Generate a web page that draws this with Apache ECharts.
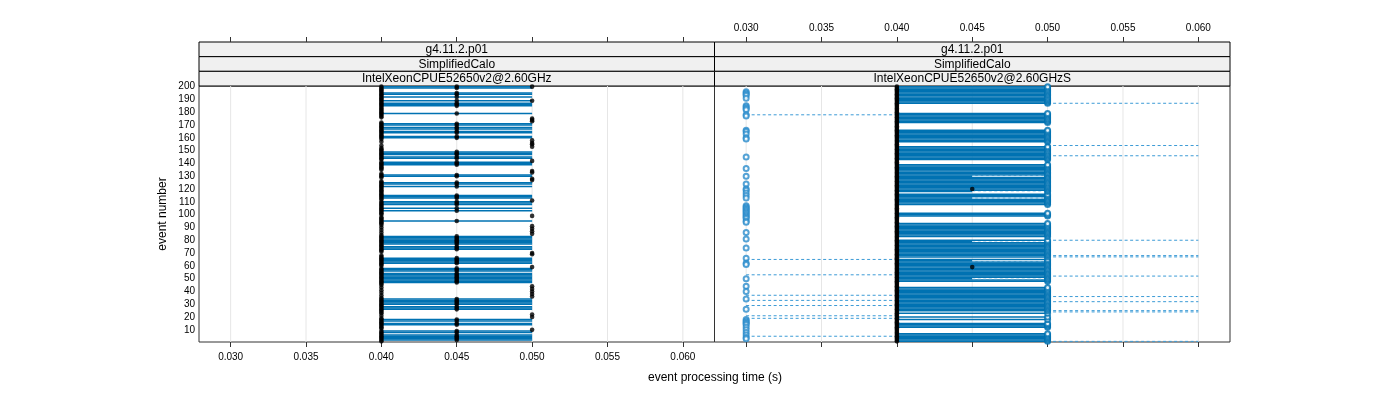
<!DOCTYPE html>
<html><head><meta charset="utf-8">
<script src="https://cdn.jsdelivr.net/npm/echarts@6/dist/echarts.min.js"></script>
<style>html,body{margin:0;padding:0;background:#fff}#c{width:1400px;height:400px}</style>
</head><body><div id="c"></div>
<script>
// ---------- data ----------
const xTicks = [0.030, 0.035, 0.040, 0.045, 0.050, 0.055, 0.060];
const yTicks = [10,20,30,40,50,60,70,80,90,100,110,120,130,140,150,160,170,180,190,200];
const stripLeft = ["g4.11.2.p01", "SimplifiedCalo", "IntelXeonCPUE52650v2@2.60GHz"];
const stripRight = ["g4.11.2.p01", "SimplifiedCalo", "IntelXeonCPUE52650v2@2.60GHzS"];
const eventCount = 200;

// left panel
const leftLineEvents = [200,199,195,194,192,189,187,186,185,179,171,170,168,167,165,164,161,160,149,148,147,145,144,141,140,139,131,130,125,124,122,115,114,113,110,109,108,105,103,95,83,82,81,80,79,78,77,75,74,73,66,65,64,63,62,58,57,56,54,53,52,51,50,49,48,47,34,33,32,31,30,28,27,26,18,17,15,14,9,8,6,5,4,3,2];
const left050Events = [200,189,175,174,173,158,156,155,153,142,134,133,128,127,111,99,91,89,87,85,70,69,59,44,42,40,38,36,22,20,10];

// right panel
const rightGapEvents = [186,185,184,183,182,181,180,171,170,169,168,167,156,155,154,142,141,140,117,107,106,105,104,103,102,98,97,96,95,94,82,81,66,47,46,45,44,24,22,21,19,17,16,11,10,9,8];
const rightHalfEvents = [130,118,113,79,64,50];
const rightCircle030 = [196,195,194,193,191,185,184,183,182,178,177,166,165,163,160,159,145,136,130,124,120,119,117,115,113,107,106,105,104,103,102,101,100,99,98,97,95,94,86,81,74,66,62,61,50,44,40,34,26,18,17,16,15,14,12,10,8,6,4,3];
const right050Black = [173,145,127,111,90,80,71,63,51,36];
const right045Black = [120,59];
const rightDashLeft = [178,65,53,37,33,29,21,19,5];
const rightDashRight = [187,154,146,80,68,67,52,36,32,25,24,1];

// ---------- build ----------
const FONT = "'Liberation Sans', Arial, sans-serif";
const XMIN = 0.0279, XMAX = 0.0621, YMIN = 0.5, YMAX = 200.5;
const BLUE = '#0072B2', DASHBLUE = '#3c9bd6';
const events = Array.from({length: eventCount}, (_, i) => i + 1);

function segRender(color, width, dash) {
  return function (params, api) {
    const a = api.coord([api.value(0), api.value(2)]);
    const b = api.coord([api.value(1), api.value(2)]);
    return {type: 'line', shape: {x1: a[0], y1: a[1], x2: b[0], y2: b[1]},
      style: {stroke: color, lineWidth: width, lineDash: dash || null}};
  };
}
function segSeries(xi, yi, data, color, width, dash, z) {
  return {type: 'custom', xAxisIndex: xi, yAxisIndex: yi, renderItem: segRender(color, width, dash),
    data: data, encode: {x: [0, 1], y: 2}, silent: true, z: z, clip: true};
}
function gridLineSeries(xi, yi) {
  return {type: 'custom', xAxisIndex: xi, yAxisIndex: yi, z: 1, silent: true,
    renderItem: function (params, api) {
      const a = api.coord([api.value(0), YMIN]);
      const b = api.coord([api.value(0), YMAX]);
      return {type: 'line', shape: {x1: a[0], y1: a[1], x2: b[0], y2: b[1]}, style: {stroke: '#e6e6e6', lineWidth: 1}};
    },
    data: xTicks.map(v => [v]), encode: {x: 0}};
}
function dots(xi, yi, xv, evs, z) {
  return {type: 'scatter', xAxisIndex: xi, yAxisIndex: yi, symbol: 'circle', symbolSize: 4.6,
    itemStyle: {color: '#000'}, data: evs.map(e => [xv, e]), z: z, silent: true};
}
function circles(xi, yi, xv, evs, z, color) {
  const c = color || BLUE;
  return {type: 'scatter', xAxisIndex: xi, yAxisIndex: yi, symbol: 'emptyCircle', symbolSize: 5,
    itemStyle: {color: c, borderColor: c, borderWidth: 1}, data: evs.map(e => [xv, e]), z: z, silent: true};
}

const left040 = events.filter(e => !left050Events.includes(e) || leftLineEvents.includes(e));
const rightLineEvents = events.filter(e => !rightGapEvents.includes(e));
const rightFull = rightLineEvents.filter(e => !rightHalfEvents.includes(e));

const series = [
  gridLineSeries(0, 0),
  gridLineSeries(3, 1),
  // left panel
  segSeries(0, 0, leftLineEvents.map(e => [0.040, 0.050, e]), BLUE, 1.5, null, 3),
  dots(0, 0, 0.040, left040, 5),
  dots(0, 0, 0.045, leftLineEvents, 5),
  dots(0, 0, 0.050, left050Events, 5),
  // right panel
  segSeries(3, 1, rightFull.map(e => [0.040, 0.050, e]), BLUE, 1.5, null, 3),
  segSeries(3, 1, rightHalfEvents.map(e => [0.040, 0.045, e]), BLUE, 1.5, null, 3),
  segSeries(3, 1, rightHalfEvents.map(e => [0.045, 0.050, e]), '#bfe0f5', 1, [3, 2.5], 4),
  segSeries(3, 1, rightDashLeft.map(e => [0.030, 0.040, e]), DASHBLUE, 1, [3, 2.5], 3),
  segSeries(3, 1, rightDashRight.map(e => [0.050, 0.060, e]), DASHBLUE, 1, [3, 2.5], 3),
  circles(3, 1, 0.030, rightCircle030, 5, '#2a8ccc'),
  dots(3, 1, 0.040, events, 5),
  dots(3, 1, 0.045, right045Black, 5),
  dots(3, 1, 0.050, right050Black, 5),
  circles(3, 1, 0.050, rightLineEvents, 6)
];

function xAxisDef(gi, pos, showLabel, offset) {
  return {type: 'value', gridIndex: gi, position: pos, offset: offset || 0, min: XMIN, max: XMAX,
    axisLine: {show: false}, splitLine: {show: false},
    axisTick: {show: true, length: 5, customValues: xTicks, lineStyle: {color: '#333', width: 1}},
    axisLabel: {show: showLabel, customValues: xTicks, formatter: v => v.toFixed(3), fontSize: 10,
      color: '#000', margin: pos === 'top' ? 9 : 10, fontFamily: FONT}};
}

const graphic = [];
function addStrips(x0, w, texts) {
  const h = 44 / 3;
  texts.forEach((t, i) => {
    const y = 42 + i * h;
    graphic.push({type: 'rect', shape: {x: x0, y: y, width: w, height: h},
      style: {fill: '#f0f0f0', stroke: '#000', lineWidth: 1}, silent: true});
    graphic.push({type: 'text', x: x0 + w / 2, y: y + h / 2 + 0.5,
      style: {text: t, font: '12px ' + FONT, fill: '#000', align: 'center', verticalAlign: 'middle',
        textAlign: 'center', textVerticalAlign: 'middle'}, silent: true});
  });
}
addStrips(199, 515.5, stripLeft);
addStrips(714.5, 515.5, stripRight);
graphic.push({type: 'text', x: 715, y: 378, style: {text: 'event processing time (s)', font: '12px ' + FONT,
  fill: '#000', align: 'center', verticalAlign: 'middle', textAlign: 'center', textVerticalAlign: 'middle'}});
graphic.push({type: 'text', x: 163, y: 214, rotation: Math.PI / 2, style: {text: 'event number', font: '12px ' + FONT,
  fill: '#000', align: 'center', verticalAlign: 'middle', textAlign: 'center', textVerticalAlign: 'middle'}});

const chart = echarts.init(document.getElementById('c'), null, {renderer: 'canvas'});
chart.setOption({
  animation: false,
  backgroundColor: '#fff',
  grid: [
    {left: 199, top: 86, width: 515.5, height: 256, show: true, borderColor: '#333', borderWidth: 1, backgroundColor: 'transparent'},
    {left: 714.5, top: 86, width: 515.5, height: 256, show: true, borderColor: '#333', borderWidth: 1, backgroundColor: 'transparent'}
  ],
  xAxis: [
    xAxisDef(0, 'bottom', true),
    xAxisDef(0, 'top', false, 44),
    xAxisDef(1, 'top', true, 44),
    xAxisDef(1, 'bottom', false)
  ],
  yAxis: [
    {type: 'value', gridIndex: 0, min: YMIN, max: YMAX, axisLine: {show: false}, axisTick: {show: false},
      splitLine: {show: false},
      axisLabel: {customValues: yTicks, fontSize: 10, color: '#000', margin: 4, fontFamily: FONT}},
    {type: 'value', gridIndex: 1, min: YMIN, max: YMAX, show: false}
  ],
  graphic: graphic,
  series: series
});
</script></body></html>
